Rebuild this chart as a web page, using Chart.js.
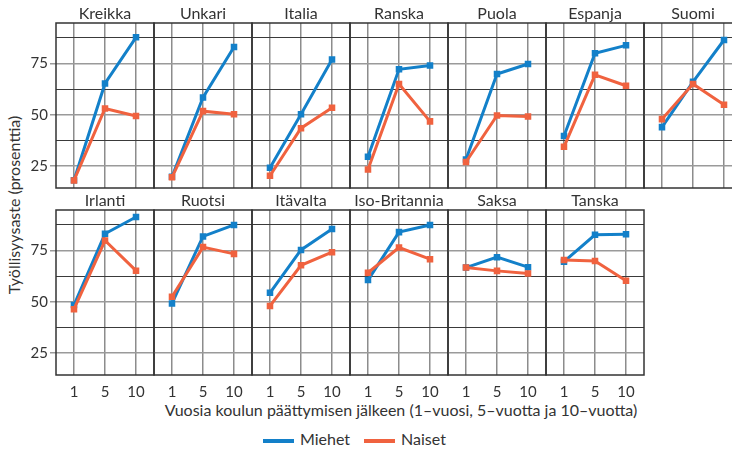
<!DOCTYPE html>
<html>
<head>
<meta charset="utf-8">
<script src="https://cdn.jsdelivr.net/npm/chart.js@4/dist/chart.umd.min.js"></script>
<style>
  body { margin: 0; background: #fff; }
  #wrap { position: relative; width: 732px; height: 449px; overflow: hidden; font-family: Lato, sans-serif; color: #333; }
  #wrap canvas { position: absolute; }
  .lbl { position: absolute; white-space: nowrap; font-size: 16px; line-height: 18px; }
  #ytitle { left: 14px; top: 205px; transform: translate(-50%, -50%) rotate(-90deg); }
  #xtitle { left: 401px; top: 410px; transform: translate(-50%, -50%); }
  #legend { left: 263px; top: 429px; font-size: 16px; line-height: 20px; }
  .sw { display: inline-block; width: 31px; height: 4px; vertical-align: middle; margin-right: 6px; }
</style>
</head>
<body>
<div id="wrap">
  <div class="lbl" id="ytitle">Työllisyysaste (prosenttia)</div>
  <div class="lbl" id="xtitle">Vuosia koulun päättymisen jälkeen (1–vuosi, 5–vuotta ja 10–vuotta)</div>
  <div class="lbl" id="legend"><span class="sw" style="background:#1380c9"></span>Miehet<span class="sw" style="background:#f0623f;margin-left:14px"></span>Naiset</div>
</div>
<script>
// data
var years = ['1', '5', '10'];
var countries = ['Kreikka', 'Unkari', 'Italia', 'Ranska', 'Puola', 'Espanja', 'Suomi',
                 'Irlanti', 'Ruotsi', 'Itävalta', 'Iso-Britannia', 'Saksa', 'Tanska'];
var miehet = [
  [18.1, 65.3, 87.8], [19.8, 58.5, 83.1], [24.2, 50.3, 77.0], [29.5, 72.2, 74.1],
  [28.2, 69.9, 74.8], [39.7, 80.0, 83.9], [44.0, 66.1, 86.5],
  [48.4, 83.2, 91.4], [49.2, 81.9, 87.5], [54.4, 75.3, 85.5], [60.6, 84.0, 87.5],
  [66.7, 71.8, 66.9], [69.6, 82.7, 83.0]
];
var naiset = [
  [18.0, 53.1, 49.4], [19.5, 51.8, 50.3], [20.3, 43.5, 53.4], [23.3, 65.0, 46.8],
  [27.0, 49.7, 49.2], [34.4, 69.5, 64.2], [47.9, 65.0, 54.9],
  [46.4, 79.9, 65.2], [52.5, 76.7, 73.4], [48.0, 67.8, 74.2], [64.2, 76.5, 70.8],
  [66.7, 65.1, 63.8], [70.4, 69.9, 60.3]
];
var yTicks = [25, 37.5, 50, 62.5, 75, 87.5];

var blue = '#1380c9', orange = '#f0623f';
var textFont = {family: 'Lato', size: 15, weight: 'normal'};

// frame round each panel
var frame = {
  id: 'frame',
  beforeDatasetsDraw: function(chart) {
    var a = chart.chartArea, c = chart.ctx;
    c.save();
    c.strokeStyle = '#333';
    c.lineWidth = 1.5;
    c.strokeRect(a.left, a.top, a.right - a.left, a.bottom - a.top);
    c.restore();
  }
};

function pts(arr) {
  return arr.map(function(v, k) { return {x: k, y: v}; });
}

function makePanel(i) {
  var row = i < 7 ? 0 : 1;
  var col = row ? i - 7 : i;
  var first = col === 0, bottom = row === 1;
  var padL = first ? 0 : 2;
  var yW = first ? 56 : 0;
  var axisH = bottom ? 30 : 0;
  var rowTop = row ? 210 : 23;

  var cv = document.createElement('canvas');
  cv.width = padL + yW + 98 + 2;
  cv.height = 23 + 165 + axisH + 2;
  cv.style.left = (56 + 98 * col - yW - padL) + 'px';
  cv.style.top = (rowTop - 23) + 'px';
  document.getElementById('wrap').appendChild(cv);

  new Chart(cv, {
    type: 'line',
    data: {
      datasets: [{
        label: 'Naiset',
        data: pts(naiset[i]),
        borderColor: orange,
        backgroundColor: orange,
        borderWidth: 3,
        pointStyle: 'rect',
        pointRadius: 2.5,
        tension: 0
      }, {
        label: 'Miehet',
        data: pts(miehet[i]),
        borderColor: blue,
        backgroundColor: blue,
        borderWidth: 3,
        pointStyle: 'rect',
        pointRadius: 2.5,
        tension: 0
      }]
    },
    plugins: [frame],
    options: {
      responsive: false,
      animation: false,
      events: [],
      layout: {autoPadding: false, padding: {left: padL, right: 2, top: 0, bottom: 2}},
      plugins: {
        legend: {display: false},
        tooltip: {enabled: false},
        title: {
          display: true,
          text: countries[i],
          fullSize: false,
          color: '#333',
          font: {family: 'Lato', size: 16, weight: 'normal', lineHeight: 1.125},
          padding: {top: 5, bottom: 0}
        }
      },
      scales: {
        x: {
          type: 'linear',
          min: -0.58,
          max: 2.58,
          afterBuildTicks: function(s) { s.ticks = years.map(function(y, k) { return {value: k}; }); },
          afterFit: function(s) {
            s.height = axisH;
            s.paddingLeft = s.paddingRight = 0;
          },
          grid: {color: '#8c8c8c', lineWidth: 1.5, drawTicks: false},
          border: {display: false},
          ticks: {
            display: bottom,
            padding: 8,
            color: '#333',
            font: textFont,
            maxRotation: 0,
            autoSkip: false,
            callback: function(v) { return years[v]; }
          }
        },
        y: {
          min: 14.3,
          max: 94.8,
          afterBuildTicks: function(s) { s.ticks = yTicks.map(function(v) { return {value: v}; }); },
          afterFit: function(s) {
            s.width = yW;
            s.paddingTop = s.paddingBottom = 0;
          },
          grid: {
            color: function(c) { return c.tick.value % 25 === 0 ? '#9a9a9a' : '#3a3a3a'; },
            lineWidth: function(c) { return c.tick.value % 25 === 0 ? 1.5 : 1; },
            drawTicks: first,
            tickLength: 6,
            tickColor: function(c) { return c.tick.value % 25 === 0 ? '#9a9a9a' : 'rgba(0,0,0,0)'; }
          },
          border: {display: false},
          ticks: {
            display: first,
            padding: 2,
            color: '#333',
            font: textFont,
            autoSkip: false,
            callback: function(v) { return v % 25 === 0 ? v : ''; }
          }
        }
      }
    }
  });
}

for (var i = 0; i < countries.length; i++) makePanel(i);
</script>
</body>
</html>
